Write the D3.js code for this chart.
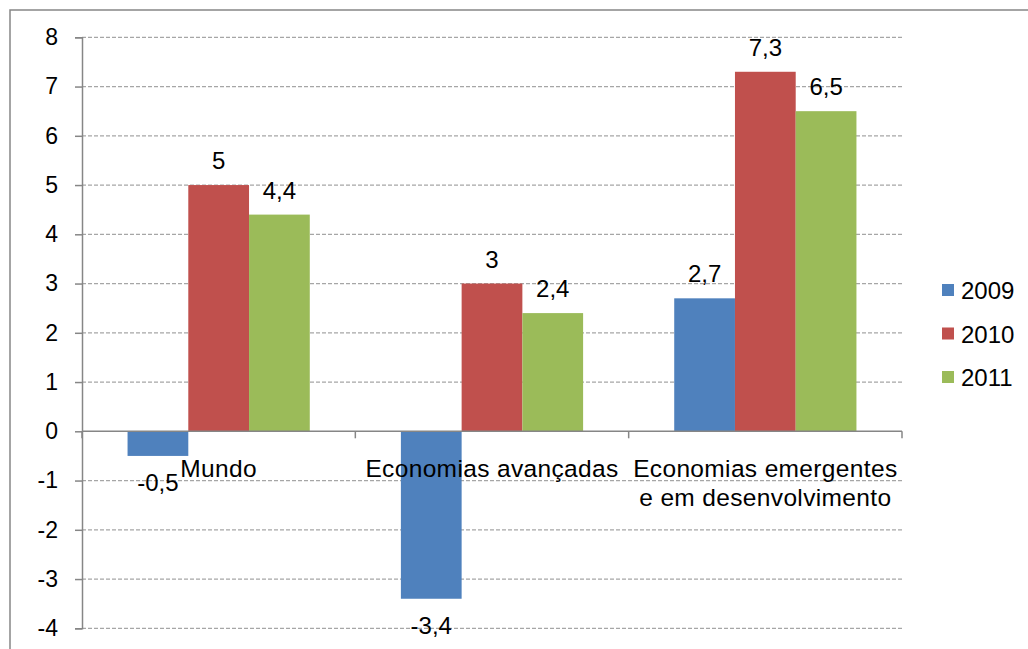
<!DOCTYPE html>
<html>
<head>
<meta charset="utf-8">
<script src="https://cdn.jsdelivr.net/npm/d3@7"></script>
<style>
  html, body { margin: 0; padding: 0; background: #fff; }
  svg { display: block; font-family: Arial, "Liberation Sans", sans-serif; }
</style>
</head>
<body>
<svg id="chart" width="1028" height="649"></svg>
<script>
// GDP growth by economy group, 2009-2011 (%)
const categories = [
  ["Mundo"],
  ["Economias avançadas"],
  ["Economias emergentes", "e em desenvolvimento"]
];
const seriesNames = ["2009", "2010", "2011"];
const values2009 = [-0.5, -3.4, 2.7];
const values2010 = [5, 3, 7.3];
const values2011 = [4.4, 2.4, 6.5];
const yTicks = [-4, -3, -2, -1, 0, 1, 2, 3, 4, 5, 6, 7, 8];
const colors = ["#4F81BD", "#C0504D", "#9BBB59"];

const series = [values2009, values2010, values2011];
const svg = d3.select("#chart");

// outer chart frame
svg.append("rect")
  .attr("x", 10).attr("y", 10)
  .attr("width", 1040).attr("height", 660)
  .attr("fill", "none").attr("stroke", "#868686").attr("stroke-width", 1.5);

const plot = { left: 82, right: 902, top: 37.3, bottom: 628.3 };

const y = d3.scaleLinear().domain([-4, 8]).range([plot.bottom, plot.top]);
const x0 = d3.scaleBand()
  .domain(d3.range(categories.length))
  .range([plot.left, plot.right])
  .paddingInner(1 / 3)
  .paddingOuter(1 / 6);
const x1 = d3.scaleBand()
  .domain(d3.range(seriesNames.length))
  .range([0, x0.bandwidth()]);

const fmt = v => String(v).replace(".", ",");

// dashed horizontal gridlines
svg.append("g")
  .selectAll("line")
  .data(yTicks.filter(t => t !== 0))
  .join("line")
  .attr("x1", plot.left).attr("x2", plot.right)
  .attr("y1", d => y(d)).attr("y2", d => y(d))
  .attr("stroke", "#a6a6a6").attr("stroke-width", 1.2)
  .attr("stroke-dasharray", "4,2");

// y axis
const yAxis = svg.append("g")
  .attr("transform", `translate(${plot.left},0)`)
  .call(d3.axisLeft(y).tickValues(yTicks).tickSize(7).tickPadding(17).tickFormat(d => d));
yAxis.select(".domain").attr("stroke", "#868686").attr("stroke-width", 1.5);
yAxis.selectAll(".tick line").attr("stroke", "#868686").attr("stroke-width", 1.5);
yAxis.selectAll(".tick text")
  .attr("fill", "#000").attr("font-size", 23)
  .attr("font-family", "Arial, 'Liberation Sans', sans-serif");

// bars
const groups = svg.append("g")
  .selectAll("g")
  .data(categories.map((c, i) => i))
  .join("g")
  .attr("transform", i => `translate(${x0(i)},0)`);

groups.selectAll("rect")
  .data(i => series.map((s, k) => ({ k, v: s[i] })))
  .join("rect")
  .attr("x", d => x1(d.k))
  .attr("width", x1.bandwidth())
  .attr("y", d => y(Math.max(0, d.v)))
  .attr("height", d => Math.abs(y(d.v) - y(0)))
  .attr("fill", d => colors[d.k]);

// zero axis with category separators
const xAxisLine = svg.append("g");
xAxisLine.append("line")
  .attr("x1", plot.left).attr("x2", plot.right)
  .attr("y1", y(0)).attr("y2", y(0))
  .attr("stroke", "#868686").attr("stroke-width", 1.5);
const sepPositions = d3.range(categories.length + 1).map(i => plot.left + i * x0.step());
xAxisLine.selectAll("line.sep")
  .data(sepPositions)
  .join("line")
  .attr("class", "sep")
  .attr("x1", d => d).attr("x2", d => d)
  .attr("y1", y(0)).attr("y2", y(0) + 7)
  .attr("stroke", "#868686").attr("stroke-width", 1.5);

// category labels
const catText = svg.append("g")
  .selectAll("text")
  .data(categories)
  .join("text")
  .attr("x", (d, i) => x0(i) + x0.bandwidth() / 2)
  .attr("y", 477)
  .attr("text-anchor", "middle")
  .attr("font-size", 24.5)
  .attr("letter-spacing", 0.35)
  .attr("fill", "#000");
catText.selectAll("tspan")
  .data(d => d)
  .join("tspan")
  .attr("x", function () { return this.parentNode.getAttribute("x"); })
  .attr("dy", (d, j) => j === 0 ? 0 : 29)
  .text(d => d);

// value labels
groups.selectAll("text.val")
  .data(i => series.map((s, k) => ({ k, v: s[i] })))
  .join("text")
  .attr("class", "val")
  .attr("x", d => x1(d.k) + x1.bandwidth() / 2)
  .attr("y", d => d.v >= 0 ? y(d.v) - 16 : y(d.v) + 35)
  .attr("text-anchor", "middle")
  .attr("font-size", 24)
  .attr("fill", "#000")
  .text(d => fmt(d.v));

// legend
const legend = svg.append("g")
  .selectAll("g")
  .data(seriesNames)
  .join("g")
  .attr("transform", (d, i) => `translate(942,${290 + i * 43.5})`);
legend.append("rect")
  .attr("x", 0).attr("y", -6)
  .attr("width", 12).attr("height", 12)
  .attr("fill", (d, i) => colors[i]);
legend.append("text")
  .attr("x", 19).attr("y", 9)
  .attr("font-size", 24)
  .attr("fill", "#000")
  .text(d => d);
</script>
</body>
</html>
